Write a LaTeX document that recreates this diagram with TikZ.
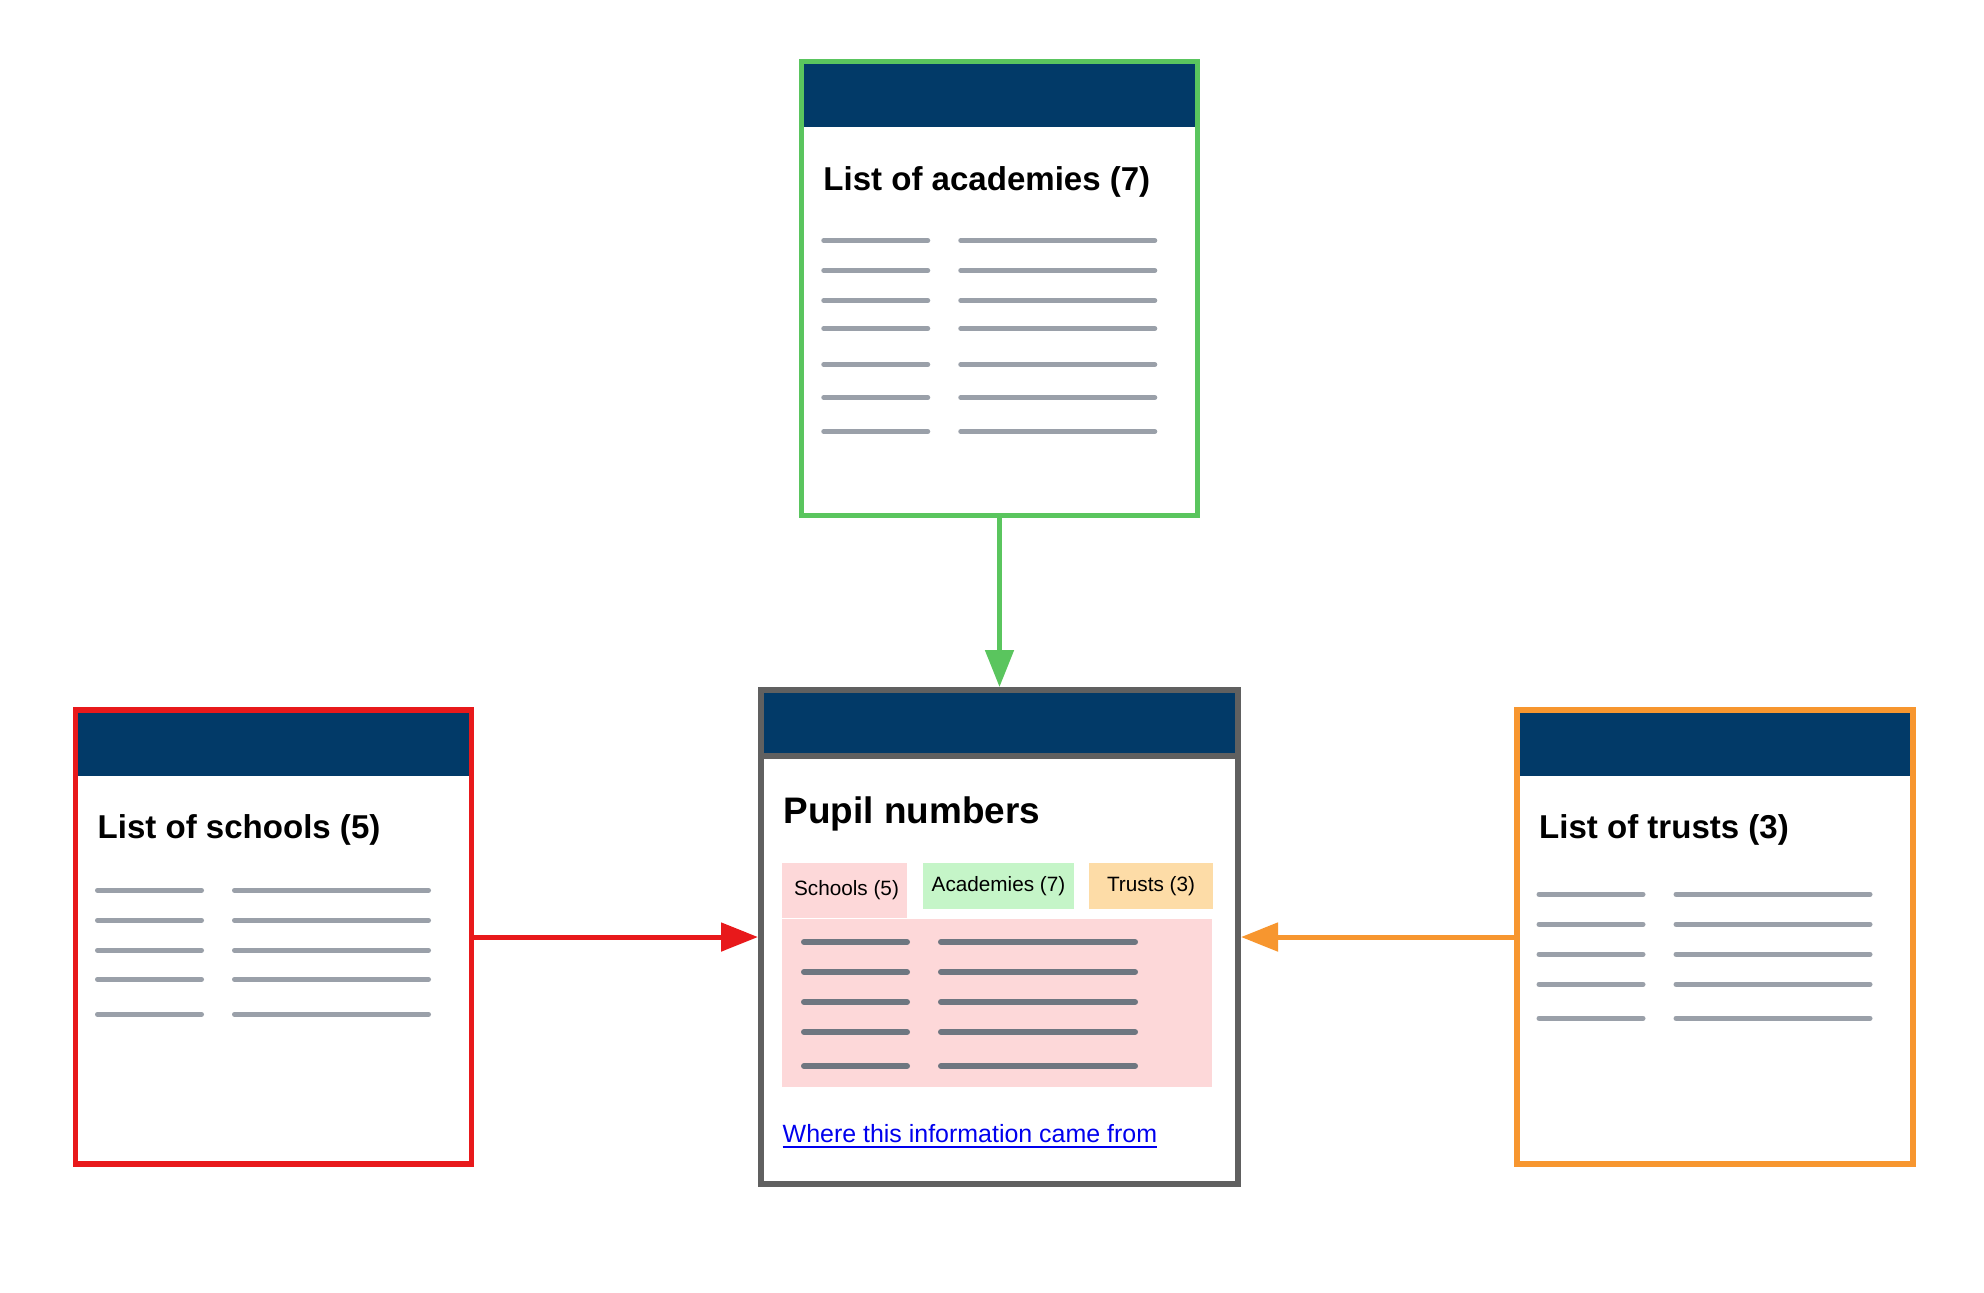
\documentclass[tikz,border=0pt]{standalone}
\usepackage{fontspec}
\setmainfont{Liberation Sans}
\usetikzlibrary{positioning, arrows.meta}

\definecolor{navy}{HTML}{023A68}
\definecolor{cardgreen}{HTML}{5AC55E}
\definecolor{cardred}{HTML}{E8191B}
\definecolor{cardorange}{HTML}{F7962F}
\definecolor{cardgrey}{HTML}{606060}
\definecolor{rowgrey}{HTML}{9AA0A9}
\definecolor{rowdark}{HTML}{6E7680}
\definecolor{panelpink}{HTML}{FDD8D9}
\definecolor{tabgreen}{HTML}{C5F5C8}
\definecolor{taborange}{HTML}{FDDCA7}
\definecolor{linkblue}{HTML}{0000EE}

\tikzset{
card/.style={draw, fill=white, inner sep=0pt, line width=0.055cm, minimum width=3.96cm, minimum height=4.54cm,
  path picture={\fill[navy] (path picture bounding box.north west) rectangle ([yshift=-0.66cm]path picture bounding box.north east);}}, % page with a blue banner
cardtitle/.style={font=\bfseries\fontsize{9.4}{11}\selectfont, inner sep=0pt, anchor=base west}, % heading of each page
tab/.style={inner sep=0pt, outer sep=0pt, font=\fontsize{5.9}{7}\selectfont, anchor=north west}, % the three tabs
row/.style={rowgrey, line width=0.05cm, line cap=round}, % a grey line stands for a table row
feed/.style={line width=0.05cm, -{Triangle[length=0.37cm, width=0.28cm]}}, % the arrows into the main page
}

% grey rows of a page: node, offsets from the top, style
\newcommand{\cardrows}[3]{%
  \foreach \ry in {#2} {
    \draw[#3] ([xshift=0.25cm, yshift=-\ry cm]#1.north west) -- ++(1.04,0);
    \draw[#3] ([xshift=1.62cm, yshift=-\ry cm]#1.north west) -- ++(1.94,0);
  }}

\begin{document}
\begin{tikzpicture}
  \fill[white] (0,0) rectangle (19.84,-12.92);
  \useasboundingbox (0,0) rectangle (19.84,-12.92);

  % main page
  \node[card, draw=cardgrey, line width=0.06cm, minimum width=4.77cm, minimum height=4.94cm,
    path picture={\fill[navy] (path picture bounding box.north west) rectangle ([yshift=-0.63cm]path picture bounding box.north east);
      \draw[cardgrey, line width=0.06cm] ([yshift=-0.66cm]path picture bounding box.north west) -- ([yshift=-0.66cm]path picture bounding box.north east);}]
    (pupil) at (9.995,-9.37) {};
  \node[card, draw=cardred, left=2.84cm of pupil] (schools) {};
  \node[card, draw=cardorange, right=2.73cm of pupil] (trusts) {};
  \node[card, draw=cardgreen, above=1.69cm of pupil] (academies) {};

  \node[cardtitle] (schoolstitle) at ([xshift=0.245cm, yshift=-1.31cm]schools.north west) {List of schools (5)};
  \node[cardtitle] (truststitle) at ([xshift=0.245cm, yshift=-1.31cm]trusts.north west) {List of trusts (3)};
  \node[cardtitle] (academiestitle) at ([xshift=0.24cm, yshift=-1.32cm]academies.north west) {List of academies (7)};
  \node[cardtitle, font=\bfseries\fontsize{10.5}{12}\selectfont] (pupiltitle) at ([xshift=0.25cm, yshift=-1.36cm]pupil.north west) {Pupil numbers};

  \cardrows{schools}{1.83,2.13,2.43,2.72,3.07}{row}
  \cardrows{trusts}{1.87,2.17,2.47,2.77,3.11}{row}
  \cardrows{academies}{1.82,2.12,2.42,2.70,3.06,3.39,3.73}{row}

  % tabs and table of the main page
  \node[tab, fill=panelpink, minimum width=1.25cm, minimum height=0.55cm] (schoolstab) at ([xshift=0.24cm, yshift=-1.76cm]pupil.north west) {\hspace{0.04cm}Schools (5)};
  \node[tab, fill=tabgreen, minimum width=1.51cm, minimum height=0.46cm, right=0.16cm of schoolstab.north east, anchor=north west] (academiestab) {Academies (7)};
  \node[tab, fill=taborange, minimum width=1.24cm, minimum height=0.46cm, right=0.15cm of academiestab.north east, anchor=north west] (truststab) {Trusts (3)};
  \node[tab, fill=panelpink, minimum width=4.30cm, minimum height=1.68cm] (tablepanel) at ([xshift=0.24cm, yshift=-2.32cm]pupil.north west) {};
  \foreach \ry in {2.55,2.85,3.15,3.45,3.79} {
    \draw[row, rowdark, line width=0.06cm] ([xshift=0.46cm, yshift=-\ry cm]pupil.north west) -- ++(1.03,0);
    \draw[row, rowdark, line width=0.06cm] ([xshift=1.83cm, yshift=-\ry cm]pupil.north west) -- ++(1.94,0);
  }
  \node[cardtitle, font=\fontsize{7.1}{9}\selectfont, text=linkblue] (source) at ([xshift=0.24cm, yshift=-4.55cm]pupil.north west) {\underline{Where this information came from}};

  \draw[feed, cardgreen] (academies) -- (pupil);
  \draw[feed, cardred] (schools) -- (pupil);
  \draw[feed, cardorange] (trusts) -- (pupil);
\end{tikzpicture}
\end{document}
